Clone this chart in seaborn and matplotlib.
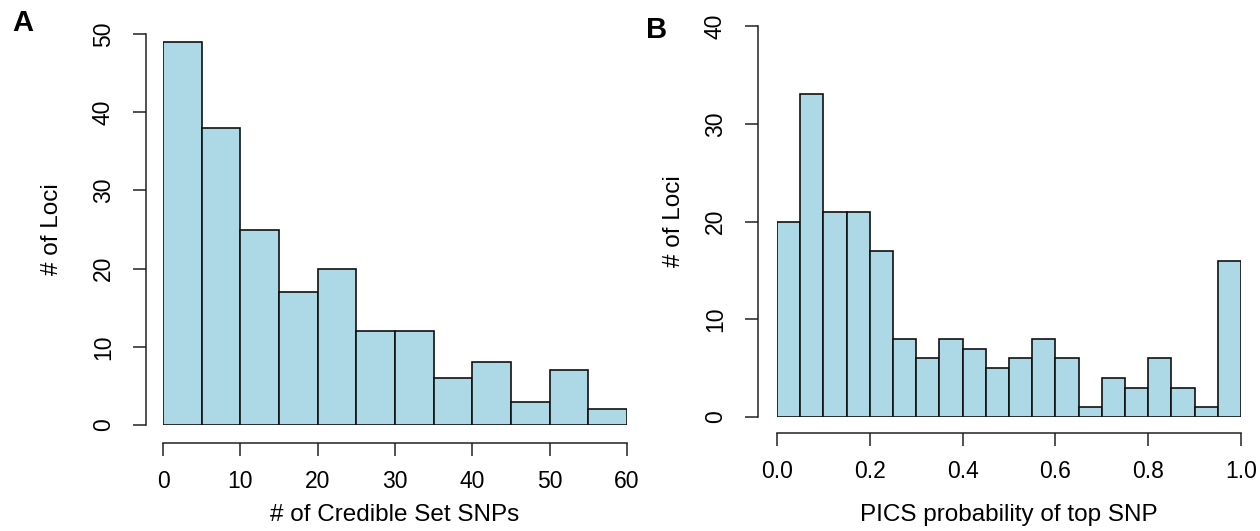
import numpy as np
import pandas as pd
import matplotlib
matplotlib.use("Agg")
import matplotlib.pyplot as plt
import seaborn as sns

# A: 신뢰 집합 SNP 개수 히스토그램 (bin 폭 5)
snp_edges = np.arange(0, 65, 5)
snp_counts = [49, 38, 25, 17, 20, 12, 12, 6, 8, 3, 7, 2]

# B: top SNP 의 PICS 확률 히스토그램 (bin 폭 0.05)
pics_edges = np.linspace(0, 1, 21)
pics_counts = [20, 33, 21, 21, 17, 8, 6, 8, 7, 5, 6, 8, 6, 1, 4, 3, 6, 3, 1, 16]

snp_ticks = [0, 10, 20, 30, 40, 50, 60]
pics_ticks = [0.0, 0.2, 0.4, 0.6, 0.8, 1.0]

sns.set_style("ticks")
plt.rcParams['font.family'] = ['Liberation Sans', 'DejaVu Sans']
plt.rcParams['text.color'] = 'black'
plt.rcParams['axes.labelcolor'] = 'black'
plt.rcParams['xtick.color'] = 'black'
plt.rcParams['ytick.color'] = 'black'

fig = plt.figure(figsize=(12.6, 5.31), dpi=100)
axA = fig.add_axes([0.1294, 0.1996, 0.3683, 0.7363])
axB = fig.add_axes([0.6167, 0.2147, 0.3683, 0.7363])


def r_hist(ax, edges, counts, ymax, xticks, yticks, xlab, left_off, bottom_off, xfmt):
    df = pd.DataFrame({'mid': (edges[:-1] + edges[1:]) / 2, 'n': counts})
    sns.histplot(data=df, x='mid', weights='n', bins=list(edges), ax=ax,
                 color='#ADD8E6', edgecolor='#111111', linewidth=1.2, alpha=1)
    ax.set_xlim(edges[0], edges[-1])
    ax.set_ylim(0, ymax)
    ax.set_xticks(xticks)
    ax.set_xticklabels([xfmt % t for t in xticks])
    ax.set_yticks(yticks)
    for s in ['top', 'right']:
        ax.spines[s].set_visible(False)
    ax.spines['left'].set_position(('outward', left_off))
    ax.spines['bottom'].set_position(('outward', bottom_off))
    ax.spines['left'].set_bounds(yticks[0], yticks[-1])
    ax.spines['bottom'].set_bounds(xticks[0], xticks[-1])
    for s in ['left', 'bottom']:
        ax.spines[s].set_linewidth(1.1)
        ax.spines[s].set_color('#222222')
    ax.tick_params(axis='both', length=9.4, width=1.1, color='#222222', labelsize=16.5)
    ax.tick_params(axis='x', pad=10)
    ax.tick_params(axis='y', pad=13, labelrotation=90)
    for lab in ax.get_yticklabels():
        lab.set_va('center')
    ax.set_xlabel(xlab, fontsize=17.5, va='center')
    ax.set_ylabel('# of Loci', fontsize=17.5, va='center')


r_hist(axA, snp_edges, snp_counts, 50, snp_ticks, [0, 10, 20, 30, 40, 50],
       '# of Credible Set SNPs', 12.2, 13, '%d')
axA.xaxis.set_label_coords(0.5, -0.230)
axA.yaxis.set_label_coords(-0.239, 0.5)

r_hist(axB, pics_edges, pics_counts, 40, pics_ticks, [0, 10, 20, 30, 40],
       'PICS probability of top SNP', 13.7, 11.5, '%.1f')
axB.xaxis.set_label_coords(0.5, -0.25)
axB.yaxis.set_label_coords(-0.222, 0.5)

fig.text(23 / 1260, 1 - 23 / 531, 'A', fontsize=21, fontweight='bold', ha='center', va='center')
fig.text(657 / 1260, 1 - 30 / 531, 'B', fontsize=21, fontweight='bold', ha='center', va='center')

fig.savefig('out.png', dpi=100, facecolor='white')
